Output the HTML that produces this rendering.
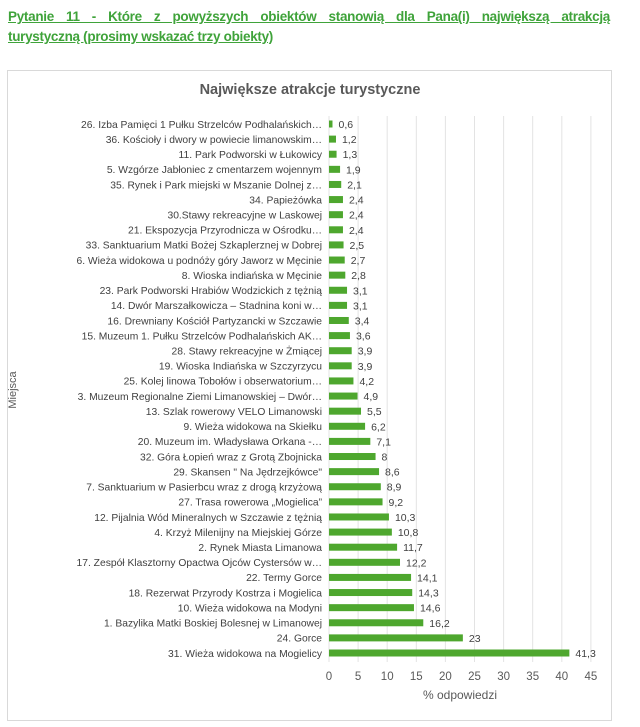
<!DOCTYPE html>
<html><head><meta charset="utf-8"><style>
body{margin:0;width:640px;height:727px;background:#fff;font-family:"Liberation Sans",sans-serif;position:relative;overflow:hidden}
.h{position:absolute;left:8px;width:602px;color:#3fa33a;font-weight:bold;text-decoration:underline;font-size:13.5px;letter-spacing:-0.3px}
</style></head><body>
<div class="h" style="top:9px;text-align:justify;text-align-last:justify">Pytanie 11 - Które z powyższych obiektów stanowią dla Pana(i) największą atrakcją</div>
<div class="h" style="top:29px">turystyczną (prosimy wskazać trzy obiekty)</div>
<svg style="position:absolute;left:0;top:0" width="640" height="727" font-family="Liberation Sans, sans-serif">
<rect x="7.5" y="70.5" width="604" height="650" fill="#fff" stroke="#d9d9d9"/>
<text x="310" y="94" text-anchor="middle" font-size="14.5" font-weight="bold" fill="#595959">Największe atrakcje turystyczne</text>
<g id="g" stroke="#e3e3e3"></g>
<g id="b"></g>
<text x="16" y="390" transform="rotate(-90 16 390)" text-anchor="middle" font-size="11" fill="#595959">Miejsca</text>
<text x="460" y="699" text-anchor="middle" font-size="12" fill="#595959">% odpowiedzi</text>
</svg>
<script>
var d=[["26. Izba Pamięci 1 Pułku Strzelców Podhalańskich…",0.6],["36. Kościoły i dwory w powiecie limanowskim…",1.2],["11. Park Podworski w Łukowicy",1.3],["5. Wzgórze Jabłoniec z cmentarzem wojennym",1.9],["35. Rynek i Park miejski w Mszanie Dolnej z…",2.1],["34. Papieżówka",2.4],["30.Stawy rekreacyjne w Laskowej",2.4],["21. Ekspozycja Przyrodnicza w Ośrodku…",2.4],["33. Sanktuarium Matki Bożej Szkaplerznej w Dobrej",2.5],["6. Wieża widokowa u podnóży góry Jaworz w Męcinie",2.7],["8. Wioska indiańska w Męcinie",2.8],["23. Park Podworski Hrabiów Wodzickich z tężnią",3.1],["14. Dwór Marszałkowicza – Stadnina koni w…",3.1],["16. Drewniany Kościół Partyzancki w Szczawie",3.4],["15. Muzeum 1. Pułku Strzelców Podhalańskich AK…",3.6],["28. Stawy rekreacyjne w Żmiącej",3.9],["19. Wioska Indiańska w Szczyrzycu",3.9],["25. Kolej linowa Tobołów i obserwatorium…",4.2],["3. Muzeum Regionalne Ziemi Limanowskiej – Dwór…",4.9],["13. Szlak rowerowy VELO Limanowski",5.5],["9. Wieża widokowa na Skiełku",6.2],["20. Muzeum im. Władysława Orkana -…",7.1],["32. Góra Łopień wraz z Grotą Zbojnicka",8],["29. Skansen \" Na Jędrzejkówce\"",8.6],["7. Sanktuarium w Pasierbcu wraz z drogą krzyżową",8.9],["27. Trasa rowerowa „Mogielica”",9.2],["12. Pijalnia Wód Mineralnych w Szczawie z tężnią",10.3],["4. Krzyż Milenijny na Miejskiej Górze",10.8],["2. Rynek Miasta Limanowa",11.7],["17. Zespół Klasztorny Opactwa Ojców Cystersów w…",12.2],["22. Termy Gorce",14.1],["18. Rezerwat Przyrody Kostrza i Mogielica",14.3],["10. Wieża widokowa na Modyni",14.6],["1. Bazylika Matki Boskiej Bolesnej w Limanowej",16.2],["24. Gorce",23],["31. Wieża widokowa na Mogielicy",41.3]];
var x0=329,k=5.82,y0=124,dy=(653-124)/(d.length-1),s="",g="";
for(var i=0;i<=9;i++){var x=x0+i*5*k;g+='<line x1="'+x+'" y1="116" x2="'+x+'" y2="662"/>';s+='<text x="'+x+'" y="680" text-anchor="middle" font-size="11.5" fill="#595959">'+i*5+'</text>';}
d.forEach(function(r,i){var y=y0+i*dy,w=r[1]*k;s+='<text x="322" y="'+(y+3.8)+'" text-anchor="end" font-size="10.3" fill="#404040">'+r[0].replace(/"/g,"&quot;")+'</text><rect x="'+x0+'" y="'+(y-3.5)+'" width="'+w+'" height="7" fill="#4ea72e"/><text x="'+(x0+w+6)+'" y="'+(y+4)+'" font-size="10.5" fill="#404040">'+String(r[1]).replace(".",",")+'</text>';});
document.getElementById("g").innerHTML=g;document.getElementById("b").innerHTML=s;
</script>
</body></html>
